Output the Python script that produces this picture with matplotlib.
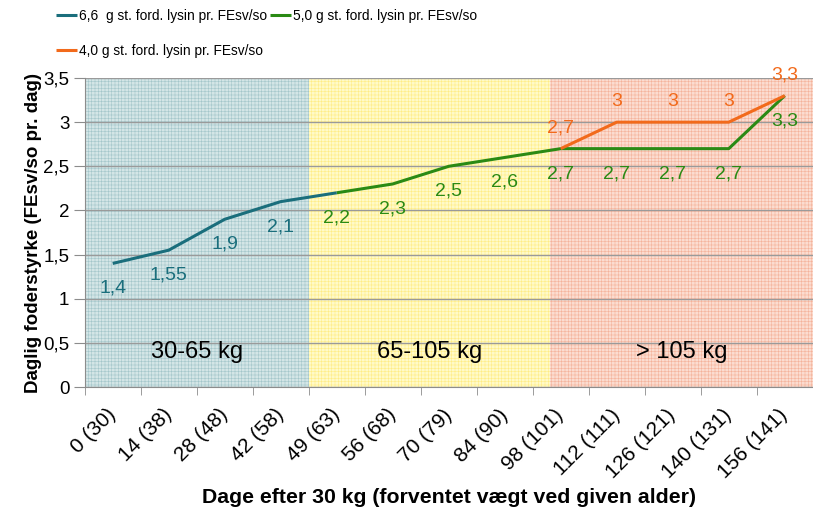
import numpy as np
import matplotlib.pyplot as plt
from matplotlib.ticker import FixedLocator, FuncFormatter

plt.rcParams['font.family'] = ['Liberation Sans', 'DejaVu Sans']
plt.rcParams['hatch.linewidth'] = 0.4

# data
kategorier = ['0 (30)', '14 (38)', '28 (48)', '42 (58)', '49 (63)', '56 (68)', '70 (79)',
              '84 (90)', '98 (101)', '112 (111)', '126 (121)', '140 (131)', '156 (141)']
lys66 = [1.4, 1.55, 1.9, 2.1, 2.2]                               # idx 0..4
lys50 = [2.2, 2.3, 2.5, 2.6, 2.7, 2.7, 2.7, 2.7, 3.3]           # idx 4..12
lys40 = [2.7, 3, 3, 3, 3.3]                                      # idx 8..12
zoner = ['30-65 kg', '65-105 kg', '> 105 kg']
zone_graenser = [-0.5, 3.5, 7.81, 12.5]

teal = '#1A6E7C'
groen = '#2A8A14'
orange = '#F26A1B'

fig = plt.figure(figsize=(8.13, 5.15), dpi=100)
ax = fig.add_axes([0.1042, 0.2485, 0.8955, 0.6])

# baggrundszoner
zone_farver = [('#D3E5E6', '#A3C6CA'), ('#FFFAC8', '#FFEC85'), ('#FBDCD0', '#F4B29A')]
for i in range(3):
    fc, hc = zone_farver[i]
    ax.axvspan(zone_graenser[i], zone_graenser[i+1], facecolor=fc, edgecolor=hc,
               hatch='+++++', linewidth=0, zorder=0)
    ax.text((zone_graenser[i] + zone_graenser[i+1]) / 2, 0.4, zoner[i],
            ha='center', va='center', fontsize=17, color='black', zorder=5)

x66 = np.arange(0, 5)
x50 = np.arange(4, 13)
x40 = np.arange(8, 13)
ax.plot(x50, lys50, color=groen, lw=2.2, zorder=3, solid_capstyle='butt',
        label='5,0 g st. ford. lysin pr. FEsv/so')
ax.plot(x40, lys40, color=orange, lw=2.2, zorder=3, solid_capstyle='butt',
        label='4,0 g st. ford. lysin pr. FEsv/so')
ax.plot(x66, lys66, color=teal, lw=2.2, zorder=4, solid_capstyle='butt',
        label='6,6  g st. ford. lysin pr. FEsv/so')

def fmt(v):
    return ('%g' % v).replace('.', ',')

for xi, v in zip(x66[:4], lys66[:4]):
    ax.annotate(fmt(v), (xi, v), xytext=(0, -25), textcoords='offset pixels',
                ha='center', va='center', fontsize=14, color=teal, zorder=6)
for xi, v in zip(x50, lys50):
    ax.annotate(fmt(v), (xi, v), xytext=(0, -25), textcoords='offset pixels',
                ha='center', va='center', fontsize=14, color=groen, zorder=6)
for xi, v in zip(x40, lys40):
    ax.annotate(fmt(v), (xi, v), xytext=(0, 21), textcoords='offset pixels',
                ha='center', va='center', fontsize=14, color=orange, zorder=6)

ax.set_xlim(-0.5, 12.5)
ax.set_ylim(0, 3.5)
ax.set_yticks(np.arange(0, 3.51, 0.5))
ax.yaxis.set_major_formatter(FuncFormatter(lambda v, p: fmt(v)))
ax.yaxis.grid(True, color='#9A9A9A', lw=1)
for gl in ax.get_ygridlines():
    gl.set_zorder(1)

ax.set_xticks(np.arange(13))
ax.set_xticklabels(kategorier, rotation=45, ha='right', va='center',
                   rotation_mode='anchor', fontsize=15)
ax.xaxis.set_minor_locator(FixedLocator(np.arange(-0.5, 13, 1)))
ax.tick_params(axis='x', which='major', length=0, pad=18)
ax.tick_params(axis='x', which='minor', length=6, color='#8C8C8C')
ax.tick_params(axis='y', length=8, color='#8C8C8C', labelsize=13.5, pad=3)

for s in ['top', 'right']:
    ax.spines[s].set_visible(False)
ax.spines['left'].set_color('#8C8C8C')
ax.spines['bottom'].set_color('#8C8C8C')

ax.set_ylabel('Daglig foderstyrke (FEsv/so pr. dag)', fontsize=13.5,
              fontweight='bold', labelpad=1)
ax.set_xlabel('Dage efter 30 kg (forventet vægt ved given alder)', fontsize=15.3,
              fontweight='bold', labelpad=4)

h, l = ax.get_legend_handles_labels()
# rækkefølge: teal, orange (kolonne 1), groen (kolonne 2)
fig.legend([h[2], h[1], h[0]], [l[2], l[1], l[0]], ncol=2, loc='upper left',
           bbox_to_anchor=(0.062, 0.993), frameon=False, fontsize=9.9,
           handlelength=1.55, handletextpad=0.12, columnspacing=0.2,
           labelspacing=1.5, borderaxespad=0)

fig.savefig('out.png', dpi=100)
